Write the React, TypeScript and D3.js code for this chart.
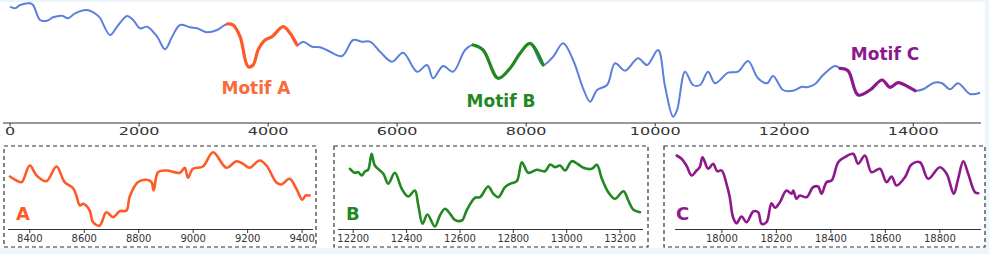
import * as d3 from "d3";

// main series: position along the sequence, amplitude
const mainT = [0, 78, 155, 310, 357, 465, 574, 667, 806, 899, 1008, 1194, 1349, 1395, 1550, 1659, 1814, 1907, 2015, 2124, 2279, 2403, 2511, 2635, 2790, 2899, 3054, 3209, 3364, 3457, 3565, 3689, 3767, 3844, 3953, 4061, 4232, 4340, 4449, 4542, 4681, 4805, 4929, 5146, 5317, 5456, 5580, 5735, 5921, 6092, 6309, 6464, 6557, 6712, 6867, 7053, 7177, 7332, 7564, 7750, 7905, 8060, 8262, 8417, 8572, 8727, 8882, 8990, 9099, 9254, 9378, 9533, 9734, 9874, 10044, 10153, 10277, 10339, 10463, 10587, 10695, 10819, 10928, 11129, 11284, 11439, 11594, 11734, 11827, 11982, 12137, 12276, 12354, 12478, 12602, 12788, 12865, 12989, 13144, 13330, 13516, 13640, 13764, 13919, 14028, 14152, 14322, 14446, 14570, 14694, 14880, 15035];
const mainV = [113.3, 111.7, 115, 116.7, 115, 100, 99.3, 102.7, 104.3, 101.7, 106.7, 110, 105, 102, 85, 93.3, 104, 100, 91.7, 93.3, 83.3, 70.7, 83.3, 95, 92.7, 91.7, 87.7, 90, 96, 95, 83.3, 53.3, 55, 70, 80, 83.3, 93.3, 86.7, 75, 78.3, 73.3, 72.7, 69.3, 64, 80, 78.3, 78.3, 68.3, 58.3, 67.3, 48.3, 55, 41.7, 54, 48.3, 70, 75, 70, 41.7, 51.7, 66.7, 76.7, 55, 63.3, 76.7, 60, 31.7, 18.3, 30, 35, 56.7, 49.3, 61.7, 55, 70, 33.3, 3.3, 10, 48.3, 35, 35, 48.3, 36.7, 47.3, 48.3, 59, 41.7, 36.7, 44, 30, 29.3, 33.3, 32.7, 36, 45, 54, 51.7, 49.3, 25, 30, 40, 32.7, 37.3, 33.3, 29.3, 30.7, 37.3, 36.7, 30.7, 36.7, 26, 27.3];
const mainTicks = [0, 2000, 4000, 6000, 8000, 10000, 12000, 14000];

const motifNames = ["A", "B", "C"];
const motifColors = ["#ff5a26", "#22881f", "#8c1a8c"];
const motifLabelColors = ["#fb6a3a", "#22881f", "#8c1a8c"];
const motifStart = [3364, 7177, 12865];
const motifEnd = [4449, 8262, 14028];

// zoomed panels
const aT = [8327, 8351, 8370, 8400, 8425, 8461, 8498, 8528, 8559, 8571, 8584, 8596, 8620, 8632, 8657, 8681, 8706, 8730, 8755, 8767, 8797, 8828, 8847, 8855, 8871, 8902, 8951, 8969, 8981, 8999, 9036, 9073, 9122, 9159, 9183, 9207, 9244, 9269, 9305, 9324, 9354, 9379, 9401, 9413, 9428];
const aV = [52, 48, 46.3, 63, 53, 47.3, 62, 46.3, 40.3, 33, 23, 24.7, 18, 6.3, 3, 16.3, 11.3, 17.3, 18, 32, 46.3, 48.7, 46.3, 38, 56.3, 58, 55.7, 60.7, 50.7, 59.7, 62, 76.3, 60.7, 67.3, 64.7, 60.7, 68, 63, 46.3, 44, 49.7, 39.7, 28.7, 33, 33];
const aTicks = [8400, 8600, 8800, 9000, 9200, 9400];

const bT = [12188, 12206, 12219, 12232, 12244, 12256, 12269, 12281, 12313, 12331, 12356, 12382, 12406, 12431, 12444, 12460, 12478, 12506, 12525, 12544, 12563, 12581, 12607, 12625, 12656, 12675, 12706, 12725, 12744, 12769, 12788, 12813, 12832, 12856, 12888, 12919, 12938, 12956, 12975, 12994, 13019, 13044, 13063, 13094, 13113, 13132, 13156, 13181, 13213, 13231, 13250, 13275];
const bV = [59.7, 55.7, 56.3, 53, 57, 58.7, 74.7, 63, 54.7, 44.7, 55.7, 39.7, 32, 38, 23, 4.7, 14, 2, 13, 19.7, 14.7, 8.7, 8, 18, 30.7, 31.3, 42, 34.7, 31.3, 41.3, 44.7, 47.3, 66.3, 55.7, 58.7, 57.3, 64, 61.3, 63, 58, 67.3, 64, 60.7, 59.7, 63.7, 49.7, 36.3, 29.7, 37.3, 28, 18.7, 16.3];
const bTicks = [12200, 12400, 12600, 12800, 13000, 13200];

const cT = [17834, 17852, 17870, 17889, 17907, 17919, 17929, 17950, 17968, 17983, 17999, 18017, 18029, 18041, 18054, 18072, 18091, 18115, 18133, 18146, 18164, 18182, 18195, 18213, 18237, 18256, 18262, 18274, 18286, 18311, 18335, 18353, 18366, 18384, 18403, 18427, 18451, 18482, 18500, 18525, 18549, 18580, 18604, 18623, 18641, 18672, 18696, 18727, 18757, 18800, 18825, 18851, 18867, 18886, 18904, 18929, 18941];
const cV = [73, 69.7, 63, 53, 58, 61.3, 71.3, 59.7, 64.7, 57.3, 58, 44.7, 31.3, 11.3, 5.3, 12, 6.3, 17, 16.3, 4.7, 6.3, 25.3, 20.7, 26.3, 38, 34.7, 38, 29.7, 33, 31.3, 41.3, 42, 34.7, 46.3, 48, 66.3, 71.3, 74.7, 64.7, 73, 56.3, 59.7, 46.3, 52, 43, 51.3, 64, 66.3, 49.7, 61.3, 54.7, 34.7, 49.7, 67.3, 54.7, 36.3, 35.3];
const cTicks = [18000, 18200, 18400, 18600, 18800];

const W = 989;
const H = 254;
const FONT = "DejaVu Sans, sans-serif";

type Pt = [number, number];
const zip = (t: number[], v: number[]): Pt[] => t.map((d, i) => [d, v[i]]);

const Axis = ({ x, y, ticks, x0, x1, stretch = 1 }: { x: d3.ScaleLinear<number, number>; y: number; ticks: number[]; x0: number; x1: number; stretch?: number }) => (
  <g>
    <line x1={x0} x2={x1} y1={y} y2={y} stroke="#333" strokeWidth={1} />
    {ticks.map((t) => (
      <g key={t} transform={`translate(${x(t)},${y})`}>
        <line y1={0} y2={3.5} stroke="#333" strokeWidth={1} />
        <text y={12.5} transform={`scale(${stretch},1)`} textAnchor="middle" fontSize={10} fill="#333" fontFamily={FONT}>
          {t}
        </text>
      </g>
    ))}
  </g>
);

const Panel = ({
  data, ticks, domain, box, axisX, color, name,
}: {
  data: Pt[]; ticks: number[]; domain: [number, number]; box: [number, number]; axisX: [number, number]; color: string; name: string;
}) => {
  const x = d3.scaleLinear().domain(domain).range(axisX);
  const y = d3.scaleLinear().domain([0, 80]).range([228.5, 148.5]);
  const line = d3
    .line<Pt>()
    .x((d) => x(d[0]))
    .y((d) => y(d[1]))
    .curve(d3.curveCatmullRom.alpha(0.5));
  return (
    <g>
      <rect x={box[0]} y={146} width={box[1] - box[0]} height={101} fill="none" stroke="#333" strokeWidth={1.2} strokeDasharray="4,3" />
      <Axis x={x} y={229.5} ticks={ticks} x0={axisX[0]} x1={axisX[1]} />
      <path d={line(data) || ""} fill="none" stroke={color} strokeWidth={2.6} strokeLinejoin="round" strokeLinecap="round" />
      <text x={box[0] + 12} y={220} fontSize={18} fontWeight="bold" fill={color} fontFamily={FONT}>
        {name}
      </text>
    </g>
  );
};

export default function App() {
  const x = d3.scaleLinear().domain([-110, 15050]).range([3, 981]);
  const y = d3.scaleLinear().domain([0, 120]).range([120, 0]);
  const main = zip(mainT, mainV);
  const line = d3
    .line<Pt>()
    .x((d) => x(d[0]))
    .y((d) => y(d[1]))
    .curve(d3.curveCatmullRom.alpha(0.5));

  const labelPos: Pt[] = [[256, 88], [501, 101], [885, 54]];

  const panels = [
    { data: zip(aT, aV), ticks: aTicks, domain: [8320, 9440] as [number, number], box: [4, 316] as [number, number], axisX: [8, 313] as [number, number] },
    { data: zip(bT, bV), ticks: bTicks, domain: [12143, 13286] as [number, number], box: [334, 648] as [number, number], axisX: [338, 643] as [number, number] },
    { data: zip(cT, cV), ticks: cTicks, domain: [17828, 18951] as [number, number], box: [664, 985] as [number, number], axisX: [675, 981] as [number, number] },
  ];

  return (
    <svg width={W} height={H} style={{ display: "block", position: "absolute", left: 0, top: 0 }}>
      <rect width={W} height={H} fill="#ebf5fb" />
      <rect x={0} y={2} width={985} height={246} fill="#fff" />
      <Axis x={x} y={123} ticks={mainTicks} x0={3} x1={981} stretch={1.6} />
      <path d={line(main) || ""} fill="none" stroke="#5b7fdc" strokeWidth={2} strokeLinejoin="round" />
      {motifNames.map((m, i) => (
        <g key={m}>
          <path
            d={line(main.filter((d) => d[0] >= motifStart[i] && d[0] <= motifEnd[i])) || ""}
            fill="none"
            stroke={motifColors[i]}
            strokeWidth={3.2}
            strokeLinejoin="round"
            strokeLinecap="round"
          />
          <text x={labelPos[i][0]} y={labelPos[i][1] + 6} textAnchor="middle" fontSize={17} fontWeight="bold" fill={motifLabelColors[i]} fontFamily={FONT}>
            {`Motif ${m}`}
          </text>
        </g>
      ))}
      {panels.map((p, i) => (
        <Panel key={motifNames[i]} {...p} color={motifColors[i]} name={motifNames[i]} />
      ))}
    </svg>
  );
}
